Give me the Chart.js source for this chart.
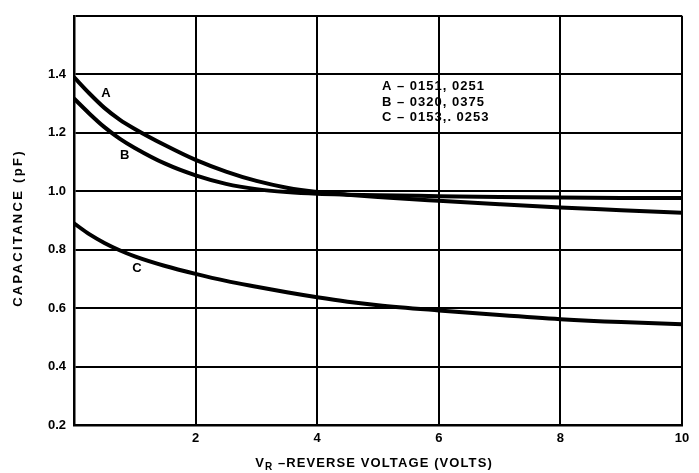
<!DOCTYPE html>
<html>
<head>
<meta charset="utf-8">
<script src="https://cdn.jsdelivr.net/npm/chart.js@4/dist/chart.umd.min.js"></script>
<style>
  html, body { margin: 0; padding: 0; background: #fff; }
  #wrap { width: 699px; height: 473px; }
</style>
</head>
<body>
<div id="wrap"><canvas id="capchart" width="699" height="473"></canvas></div>
<script>
// reverse voltage (V) and capacitance (pF) for the three diode groups
const voltage = [0, 0.25, 0.5, 0.75, 1, 1.5, 2, 2.5, 3, 3.5, 4, 4.5, 5, 6, 7, 8, 9, 10];
const capA = [1.39, 1.335, 1.285, 1.245, 1.213, 1.157, 1.107, 1.067, 1.035, 1.012, 0.997, 0.988, 0.98, 0.967, 0.955, 0.944, 0.935, 0.926];
const capB = [1.317, 1.266, 1.219, 1.18, 1.148, 1.094, 1.054, 1.025, 1.007, 0.997, 0.991, 0.988, 0.986, 0.983, 0.98, 0.978, 0.977, 0.977];
const capC = [0.89, 0.853, 0.823, 0.798, 0.777, 0.744, 0.717, 0.693, 0.673, 0.654, 0.637, 0.622, 0.61, 0.592, 0.576, 0.562, 0.552, 0.545];

const curveNames = ["A", "B", "C"];
const partNumbers = ["A \u2013 0151, 0251", "B \u2013 0320, 0375", "C \u2013 0153,. 0253"];
const xTicks = [0, 2, 4, 6, 8, 10];
const yTicks = [0.2, 0.4, 0.6, 0.8, 1.0, 1.2, 1.4, 1.6];

const FONT = "'Liberation Sans', Arial, Helvetica, sans-serif";

function toPoints(ys) {
  return voltage.map((v, i) => ({ x: v, y: ys[i] }));
}

function curve(ys) {
  return {
    data: toPoints(ys),
    borderColor: "#000",
    borderWidth: 4,
    pointRadius: 0,
    fill: false,
    cubicInterpolationMode: "monotone",
  };
}

// letters next to the curves, part-number list, and both axis titles
const annotate = {
  id: "annotate",
  afterDraw(chart) {
    const c = chart.ctx;
    const xs = chart.scales.x, ys = chart.scales.y;
    c.save();
    c.fillStyle = "#000";
    c.textBaseline = "middle";

    // curve letters (placed in data units)
    const tagAt = [[0.526, 1.333], [0.834, 1.123], [1.036, 0.734]];
    c.font = "bold 13px " + FONT;
    c.textAlign = "center";
    curveNames.forEach((n, i) => {
      c.fillText(n, xs.getPixelForValue(tagAt[i][0]), ys.getPixelForValue(tagAt[i][1]));
    });

    // part numbers
    c.textAlign = "left";
    c.letterSpacing = "1px";
    const listY = [1.359, 1.302, 1.252];
    partNumbers.forEach((t, i) => {
      c.fillText(t, xs.getPixelForValue(5.066), ys.getPixelForValue(listY[i]));
    });

    // y title
    c.save();
    c.translate(18.5, 228);
    c.rotate(-Math.PI / 2);
    c.textAlign = "center";
    c.letterSpacing = "2.3px";
    c.fillText("CAPACITANCE (pF)", 0, 0);
    c.restore();

    // x title with subscript R
    c.letterSpacing = "1.1px";
    c.textBaseline = "alphabetic";
    const big = "bold 13px " + FONT, small = "bold 10px " + FONT;
    const rest = " \u2013REVERSE VOLTAGE (VOLTS)";
    c.font = big;
    const wV = c.measureText("V").width;
    const wRest = c.measureText(rest).width;
    c.font = small;
    const wR = c.measureText("R").width;
    let x = 374 - (wV + wR + wRest) / 2;
    const base = 467;
    c.font = big;
    c.fillText("V", x, base);
    x += wV;
    c.font = small;
    c.fillText("R", x, base + 3);
    x += wR;
    c.font = big;
    c.fillText(rest, x, base);
    c.restore();
  }
};

new Chart(document.getElementById("capchart"), {
  type: "line",
  data: { datasets: [curve(capA), curve(capB), curve(capC)] },
  options: {
    responsive: false,
    animation: false,
    events: [],
    layout: { padding: { top: 7, right: 17, left: 0, bottom: 0 } },
    plugins: { legend: { display: false }, tooltip: { enabled: false } },
    scales: {
      x: {
        type: "linear",
        min: 0,
        max: 10,
        afterFit: s => { s.height = 48; },
        afterBuildTicks: s => { s.ticks = xTicks.map(v => ({ value: v })); },
        ticks: {
          callback: v => (v === 0 ? "" : String(v)),
          color: "#000",
          font: { family: FONT, size: 13, weight: "bold" },
          padding: 6,
          maxRotation: 0,
          autoSkip: false,
        },
        grid: { color: "#000", lineWidth: 2, drawTicks: false },
        border: { color: "#000", width: 2.5 },
      },
      y: {
        min: 0.2,
        max: 1.6,
        afterFit: s => { s.width = 74; },
        afterBuildTicks: s => { s.ticks = yTicks.map(v => ({ value: v })); },
        ticks: {
          callback: v => (v > 1.5 ? "" : v.toFixed(1)),
          color: "#000",
          font: { family: FONT, size: 13, weight: "bold" },
          padding: 8,
          autoSkip: false,
        },
        grid: { color: "#000", lineWidth: 2, drawTicks: false },
        border: { color: "#000", width: 2.5 },
      },
    },
  },
  plugins: [annotate],
});
</script>
</body>
</html>
